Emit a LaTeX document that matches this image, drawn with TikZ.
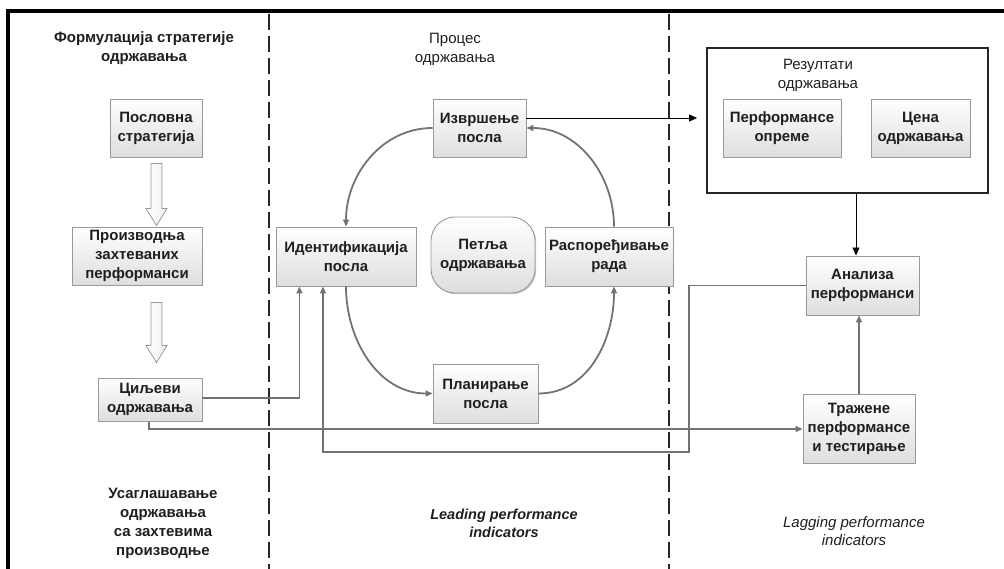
\documentclass[tikz,border=0pt]{standalone}
\usepackage{fontspec}
\setmainfont{Liberation Sans}
\usetikzlibrary{arrows.meta,calc,shadows}
\begin{document}
\begin{tikzpicture}[x=1pt,y=-1pt,
  boxfont/.style={font=\bfseries\fontsize{15}{19}\selectfont},
  box/.style={boxfont, draw=black!40, line width=0.9pt, top color=white,
    bottom color=black!13, text=black!88, align=center, inner sep=0pt,
    drop shadow={shadow xshift=1.2pt, shadow yshift=-1.2pt, opacity=0.22, fill=black}},
  heading/.style={boxfont, text=black!88, align=center},
  plainheading/.style={font=\fontsize{15}{19}\selectfont, text=black!88, align=center},
  indicator/.style={font=\itshape\fontsize{15}{18}\selectfont, text=black!88, align=center},
  divider/.style={draw=black!85, line width=2.6pt, dash pattern=on 16pt off 6pt},
  link/.style={draw=black!55, line width=1.8pt, -{Triangle[length=7pt,width=6pt]}},
  blacklink/.style={draw=black, line width=0.8pt, -{Triangle[length=8pt,width=7pt]}},
  hollow/.style={draw=black!40, line width=0.8pt, left color=white, right color=black!6},
]
\useasboundingbox (0,0) rectangle (1004,569);

% frame and column separators
\draw[line width=3.4pt] (8,569) -- (8,11) -- (1004,11);
\draw[divider] (269,14) -- (269,569);
\draw[divider] (669,14) -- (669,569);

% column headings
\node[heading] (hStrat) at (144,48.5) {Формулација стратегије\\одржавања};
\node[plainheading] (hProc) at (455,49) {Процес\\одржавања};
\node[heading] (hAlign) at (163,523) {Усаглашавање\\одржавања\\са захтевима\\производње};
\node[indicator, font=\bfseries\itshape\fontsize{14.5}{18}\selectfont] (hLead) at (504,523.5) {Leading performance\\indicators};
\node[indicator] (hLag) at (854,531) {Lagging performance\\indicators};

% strategy column
\node[box, minimum width=92pt, minimum height=58pt] (pos) at (156,128) {Пословна\\стратегија};
\node[box, minimum width=130pt, minimum height=58pt] (proizv) at (137,256) {Производња\\захтеваних\\перформанси};
\node[box, minimum width=104pt, minimum height=43pt] (cilj) at (150,399.5) {Циљеви\\одржавања};

% maintenance loop
\node[box, minimum width=140pt, minimum height=59pt] (ident) at (346,256.5) {Идентификација\\посла};
\node[box, minimum width=93pt, minimum height=58pt] (izvr) at (479.5,128) {Извршење\\посла};
\node[box, rounded corners=24pt, minimum width=104pt, minimum height=76pt] (petlja) at (483,255) {Петља\\одржавања};
\node[box, minimum width=128pt, minimum height=59pt] (rasp) at (609,256.5) {Распоређивање\\рада};
\node[box, minimum width=105pt, minimum height=59pt] (plan) at (485.5,393.5) {Планирање\\посла};

% results column
\node[draw=black!85, line width=1.8pt, minimum width=281pt, minimum height=145pt, inner sep=0pt] (res) at (847.5,120.5) {};
\node[plainheading] (hRes) at (818,75) {Резултати\\одржавања};
\node[box, minimum width=118pt, minimum height=58pt] (perf) at (782,128) {Перформансе\\опреме};
\node[box, minimum width=99pt, minimum height=58pt] (cena) at (920.5,128) {Цена\\одржавања};
\node[box, minimum width=113pt, minimum height=59pt] (anal) at (862.5,285.5) {Анализа\\перформанси};
\node[box, minimum width=112pt, minimum height=69pt] (traz) at (859,428.5) {Тражене\\перформансе\\и тестирање};

% hollow block arrows down the strategy column
\coordinate (aOneTop) at ($(pos.south)+(0.5,6)$);
\coordinate (aOneTip) at ($(aOneTop |- proizv.north)+(0,-1)$);
\coordinate (aTwoTop) at ($(aOneTop |- proizv.south)+(0,17)$);
\coordinate (aTwoTip) at ($(aOneTop |- cilj.north)+(0,-15)$);
\foreach \t/\h in {aOneTop/aOneTip, aTwoTop/aTwoTip}{
  \draw[hollow] ($(\t)+(-5.5,0)$) -- ($(\t)+(5.5,0)$) -- ($(\h)+(5.5,-17)$)
    -- ($(\h)+(10.5,-17)$) -- (\h) -- ($(\h)+(-10.5,-17)$) -- ($(\h)+(-5.5,-17)$) -- cycle;
}

% loop connectors
\draw[link] (izvr.west) to[out=180,in=90] (ident.north);
\draw[link] (ident.south) to[out=270,in=180] (plan.west);
\draw[link] (plan.east) to[out=0,in=270] ($(rasp.south)+(5,0)$);
\draw[link] ($(rasp.north)+(5,0)$) to[out=90,in=0] (izvr.east);

% execution to results
\coordinate (execOut) at ($(izvr.east)+(0,-10)$);
\draw[blacklink, shorten >=9pt] (execOut) -- (execOut -| res.west);

% goals to identification and to required performance
\coordinate (goalOut) at ($(cilj.east)+(0,-1.5)$);
\coordinate (goalBend) at ($(goalOut)+(97,0)$);
\draw[link] (goalOut) -- (goalBend) -- (goalBend |- ident.south);
\draw[link] ($(cilj.south)+(-1,0.5)$) |- ($(traz.west)+(0,0.5)$);

% analysis feedback to identification
\coordinate (feedBend) at (689,452);
\coordinate (feedEnd) at ($(ident.south)+(-23,0)$);
\draw[link] (anal.west) -| (feedBend) -| (feedEnd);

% results to analysis, required performance to analysis
\coordinate (resOut) at ($(res.south)+(8.5,0)$);
\draw[blacklink] (resOut) -- (resOut |- anal.north);
\draw[link] (traz.north) -- (traz.north |- anal.south);
\end{tikzpicture}
\end{document}
